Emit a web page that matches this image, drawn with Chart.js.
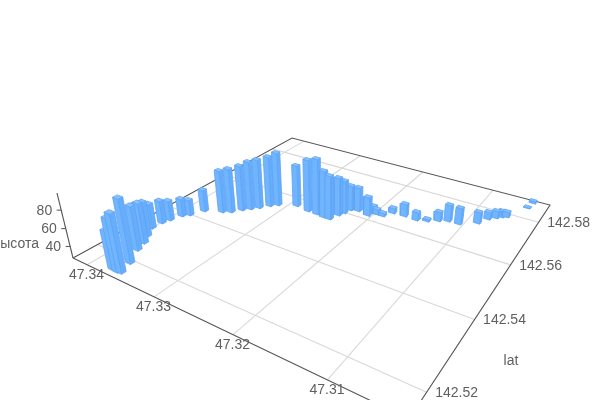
<!doctype html><html><head><meta charset="utf-8"><style>html,body{margin:0;background:#fff}canvas{display:block}</style>
<script src="https://cdn.jsdelivr.net/npm/chart.js@4"></script></head><body><div style="width:600px;height:400px"><canvas id="c" width="600" height="400"></canvas></div>
<script>
const lonValues=[47.3372,47.3365,47.3360,47.3366,47.3379,47.3388,47.3384,47.3392,47.3401,47.3400,47.3397,47.3392,47.3386,47.3378,47.3358,47.3349,47.3341,47.3334,47.3327,47.3319,47.3312,47.3291,47.3272,47.3259,47.3248,47.3240,47.3236,47.3233,47.3230,47.3221,47.3206,47.3203,47.3198,47.3190,47.3183,47.3168,47.3152,47.3140,47.3129,47.3119,47.3106,47.3088,47.3081,47.3074,47.3069,47.3064,47.3049,47.3047];
const latValues=[142.5160,142.5159,142.5161,142.5193,142.5234,142.5256,142.5260,142.5283,142.5312,142.5340,142.5359,142.5387,142.5400,142.5432,142.5451,142.5462,142.5483,142.5498,142.5513,142.5534,142.5548,142.5569,142.5563,142.5562,142.5559,142.5559,142.5585,142.5601,142.5621,142.5627,142.5621,142.5637,142.5637,142.5637,142.5662,142.5664,142.5662,142.5671,142.5686,142.5697,142.5698,142.5725,142.5755,142.5770,142.5781,142.5788,142.5856,142.5887];
const heightValues=[69.5,85.0,91.0,97.5,76.7,70.6,72.8,66.7,55.6,53.5,50.1,47.8,45.4,52.9,77.0,79.4,80.7,84.4,85.7,87.2,90.9,76.5,88.9,93.2,82.4,78.7,72.1,66.2,56.8,55.5,49.2,35.6,33.0,30.5,33.0,41.7,36.7,29.2,37.9,46.5,46.3,40.3,35.4,35.4,34.2,33.0,27.5,29.3];
const lonTicks=[47.34,47.33,47.32,47.31];
const latTicks=[142.52,142.54,142.56,142.58];
const heightTicks=[40,60,80];
const lonRange=[47.3027,47.3423], latRange=[142.514,142.5896], heightRange=[26.7,97.8];

// camera: floor corners on the page plus the vanishing point of the vertical axis
const floorL=[73,258],floorF=[409,419],floorR=[550,205],floorB=[292,138],vertVP=[330,1300],vertK=-0.0586;
function homography(p00,p10,p11,p01){const dx1=p10[0]-p11[0],dx2=p01[0]-p11[0],sx=p00[0]-p10[0]+p11[0]-p01[0],dy1=p10[1]-p11[1],dy2=p01[1]-p11[1],sy=p00[1]-p10[1]+p11[1]-p01[1];const den=dx1*dy2-dx2*dy1,g=(sx*dy2-dx2*sy)/den,h=(dx1*sy-sx*dy1)/den;return [p10[0]-p00[0]+g*p10[0],p01[0]-p00[0]+h*p01[0],p00[0],p10[1]-p00[1]+g*p10[1],p01[1]-p00[1]+h*p01[1],p00[1],g,h,1];}
const M=homography(floorL,floorF,floorR,floorB);
const uOf=lon=>(lonRange[1]-lon)/(lonRange[1]-lonRange[0]);
const vOf=lat=>(lat-latRange[0])/(latRange[1]-latRange[0]);
const wOf=h=>(h-heightRange[0])/(heightRange[1]-heightRange[0]);
function proj(u,v,w){const t=w*vertK,X=M[0]*u+M[1]*v+M[2]+t*vertVP[0],Y=M[3]*u+M[4]*v+M[5]+t*vertVP[1],W=M[6]*u+M[7]*v+1+t;return {x:X/W,y:Y/W};}

const GRID='#d8d8d8',AXIS='#555555',TEXT='#5f5f5f';
const BAR_DU=0.02,BAR_DV=0.015;
const datasets=[];
function lineSet(pts,color,order,width){datasets.push({data:pts,borderColor:color,borderWidth:width,showLine:true,pointRadius:0,fill:false,tension:0,order:order});}
function faceSet(pts,fill,edge,order){datasets.push({data:pts.concat([pts[0]]),borderColor:edge,backgroundColor:fill,borderWidth:0.8,showLine:true,pointRadius:0,fill:'shape',tension:0,order:order});}

// floor grid
lonTicks.forEach(t=>lineSet([proj(uOf(t),0,0),proj(uOf(t),1,0)],GRID,100000,1.1));
latTicks.forEach(t=>lineSet([proj(0,vOf(t),0),proj(1,vOf(t),0)],GRID,100000,1.1));
// frame and axes
lineSet([proj(0,0,0),proj(0,1,0),proj(1,1,0),proj(1,0,0),proj(0,0,0)],AXIS,99999,1.1);
lineSet([proj(0,0,0),proj(0,0,1)],AXIS,99999,1.1);
heightTicks.forEach(t=>{const p=proj(0,0,wOf(t));lineSet([p,{x:p.x-4.5,y:p.y}],AXIS,99999,1);});
// bars: painter's order from the camera corner
const depthIdx=lonValues.map((_,i)=>i).sort((a,b)=>(uOf(lonValues[b])-vOf(latValues[b]))-(uOf(lonValues[a])-vOf(latValues[a])));
depthIdx.forEach((i,rank)=>{
  const u=uOf(lonValues[i]),v=vOf(latValues[i]),w=wOf(heightValues[i]);
  const u0=u-BAR_DU/2,u1=u+BAR_DU/2,v0=v-BAR_DV/2,v1=v+BAR_DV/2;
  const base=(rank+1)*10;
  faceSet([proj(u0,v0,w),proj(u1,v0,w),proj(u1,v1,w),proj(u0,v1,w)],'#86c2ff','#5fa3f5',base);
  faceSet([proj(u0,v0,0),proj(u1,v0,0),proj(u1,v0,w),proj(u0,v0,w)],'#70b5ff','#5fa3f5',base+1);
  faceSet([proj(u1,v0,0),proj(u1,v1,0),proj(u1,v1,w),proj(u1,v0,w)],'#66adfc','#5fa3f5',base+2);
});

const labels={id:'axisLabels',afterDraw(chart){const c=chart.ctx;c.save();c.fillStyle=TEXT;c.font='14px "Liberation Sans"';c.textBaseline='middle';
  c.textAlign='center';
  lonTicks.forEach(t=>{const p=proj(uOf(t),0,0);c.fillText(t.toFixed(2),p.x-0.5,p.y+10.5);});
  latTicks.forEach(t=>{const p=proj(1,vOf(t),0);c.fillText(t.toFixed(2),p.x+30,p.y+1);});
  c.textAlign='right';
  heightTicks.forEach(t=>{const p=proj(0,0,wOf(t));c.fillText(String(t),p.x-9,p.y+1);});
  c.fillText('высота',39,244);
  c.textAlign='center';c.fillText('lat',511,361);
  c.restore();}};

new Chart(document.getElementById('c'),{type:'scatter',data:{datasets},plugins:[labels],options:{responsive:false,animation:false,
  layout:{padding:0},
  scales:{x:{type:'linear',min:0,max:600,display:false},y:{type:'linear',min:0,max:400,reverse:true,display:false}},
  plugins:{legend:{display:false},tooltip:{enabled:false}}}});
</script></body></html>
